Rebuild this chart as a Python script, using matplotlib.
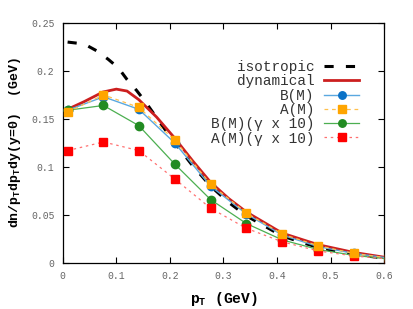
import matplotlib
matplotlib.use('Agg')
import matplotlib.pyplot as plt

# pT grid of the model points (GeV)
pt = [0.009, 0.076, 0.142, 0.209, 0.276, 0.343, 0.41, 0.477, 0.543, 0.61]

b_m = [0.159, 0.173, 0.160, 0.125, 0.080, 0.051, 0.029, 0.017, 0.010, 0.005]
a_m = [0.157, 0.175, 0.162, 0.128, 0.082, 0.052, 0.030, 0.018, 0.010, 0.005]
b_m10 = [0.159, 0.164, 0.143, 0.103, 0.066, 0.041, 0.024, 0.014, 0.008, 0.004]
a_m10 = [0.117, 0.126, 0.117, 0.0875, 0.057, 0.036, 0.022, 0.0125, 0.0073, 0.004]

# smooth curves
pt_iso = [0.009, 0.04, 0.063, 0.085, 0.104, 0.12, 0.138, 0.154, 0.178, 0.2,
          0.24, 0.276, 0.31, 0.343, 0.41, 0.477, 0.543, 0.6]
iso = [0.230, 0.228, 0.221, 0.212, 0.203, 0.191, 0.1795, 0.168, 0.149, 0.132,
       0.103, 0.080, 0.063, 0.049, 0.028, 0.016, 0.009, 0.005]

pt_dyn = [0.009, 0.04, 0.075, 0.1, 0.12, 0.142, 0.175, 0.209, 0.243, 0.276,
          0.31, 0.343, 0.41, 0.477, 0.543, 0.6]
dyn = [0.160, 0.168, 0.178, 0.181, 0.179, 0.170, 0.152, 0.130, 0.106, 0.084,
       0.067, 0.053, 0.031, 0.019, 0.011, 0.006]

mono = 'Liberation Mono'

fig = plt.figure(figsize=(4.13, 3.09), dpi=100)
ax = fig.add_axes([0.152, 0.149, 0.778, 0.777])

ax.plot(pt_iso, iso, color='black', lw=2.2, dashes=(3, 4), label='isotropic', zorder=3)
ax.plot(pt_dyn, dyn, color='#cc1f1f', lw=2.0, label='dynamical', zorder=4)
ax.plot(pt, b_m, color='#5aa8e0', lw=1.0, marker='o', ms=6, mfc='#0b72c6', mec='#0b72c6',
        label='B(M)', zorder=5)
ax.plot(pt, a_m, color='#ffc04d', lw=0.9, ls=(0, (3, 3)), marker='s', ms=6, mfc='#ffa500',
        mec='#ffa500', label='A(M)', zorder=6)
ax.plot(pt, b_m10, color='#4caf50', lw=0.9, marker='o', ms=6, mfc='#228b22', mec='#228b22',
        label='B(M)(\u03b3 x 10)', zorder=5)
ax.plot(pt, a_m10, color='#ff7070', lw=0.9, ls=(0, (2, 3)), marker='s', ms=6, mfc='#ff0000',
        mec='#ff0000', label='A(M)(\u03b3 x 10)', zorder=5)

ax.set_xlim(0, 0.6)
ax.set_ylim(0, 0.25)
ax.set_xticks([0, 0.1, 0.2, 0.3, 0.4, 0.5, 0.6])
ax.set_xticklabels(['0', '0.1', '0.2', '0.3', '0.4', '0.5', '0.6'])
ax.set_yticks([0, 0.05, 0.1, 0.15, 0.2, 0.25])
ax.set_yticklabels(['0', '0.05', '0.1', '0.15', '0.2', '0.25'])
ax.tick_params(direction='in', top=True, right=True, length=4, width=0.8,
               labelsize=7, labelcolor='#666666', pad=6)
for lab in ax.get_xticklabels() + ax.get_yticklabels():
    lab.set_family(mono)
for s in ax.spines.values():
    s.set_linewidth(0.9)

ax.set_xlabel('p$_\\mathregular{T}$ (GeV)', family=mono, fontsize=10.5, fontweight='bold', labelpad=6)
ax.set_ylabel('dn/p$_\\mathregular{T}$dp$_\\mathregular{T}$dy(y=0)  (GeV)', family=mono,
              fontsize=9.5, fontweight='bold', labelpad=6)

leg = ax.legend(loc='upper right', frameon=False, markerfirst=False, prop={'family': mono, 'size': 10.4},
                handlelength=2.4, labelspacing=0.02, borderaxespad=0, borderpad=0, handletextpad=0.7,
                markerscale=0.9, bbox_to_anchor=(0.922, 0.845))
for t in leg.get_texts():
    t.set_ha('right')
    t.set_color('#333333')

fig.savefig('out.png', dpi=100)
